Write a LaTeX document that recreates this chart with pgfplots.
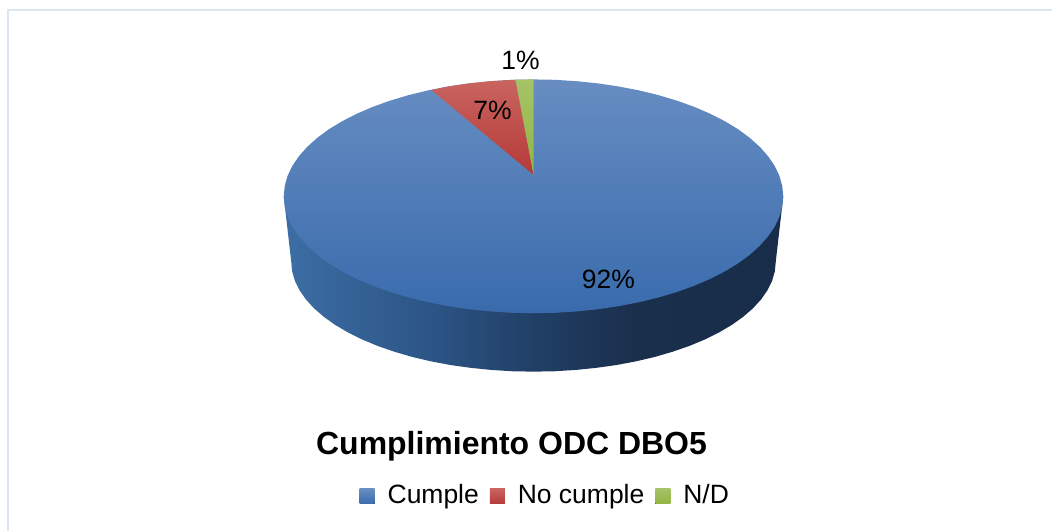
\documentclass[border=0pt]{standalone}
\usepackage{fontspec}
\setmainfont{Liberation Sans}
\usepackage{pgfplots}
\pgfplotsset{compat=1.18}
\definecolor{frameblue}{HTML}{DCE6F2}
\definecolor{blueT}{HTML}{678DC2}
\definecolor{blueM}{HTML}{4376B8}
\definecolor{blueB}{HTML}{396BAC}
\definecolor{redT}{HTML}{C9645F}
\definecolor{redB}{HTML}{B53A38}
\definecolor{greenT}{HTML}{A6C368}
\definecolor{greenB}{HTML}{92B541}
\pgfdeclarehorizontalshading{sidegrad}{100bp}{
  color(0bp)=(rgb,255:red,60;green,110;blue,165);
  color(25bp)=(rgb,255:red,60;green,110;blue,165);
  color(40bp)=(rgb,255:red,44;green,84;blue,133);
  color(50bp)=(rgb,255:red,33;green,63;blue,102);
  color(60bp)=(rgb,255:red,26;green,47;blue,76);
  color(75bp)=(rgb,255:red,24;green,45;blue,73);
  color(100bp)=(rgb,255:red,24;green,45;blue,73)}
\begin{document}
\begin{tikzpicture}
\begin{axis}[
  scale only axis, width=1053pt, height=531pt,
  xmin=0, xmax=1053, ymin=0, ymax=531, y dir=reverse,
  hide axis, clip=false, no marks,
  legend columns=-1,
  legend entries={Cumple,No cumple,N/D},
  legend style={at={(axis cs:360,495.5)}, anchor=west, draw=none, fill=none,
    inner sep=0pt, outer sep=0pt,
    font=\fontsize{26.5}{30}\selectfont,
    /tikz/every odd column/.append style={column sep=13pt},
    /tikz/every even column/.append style={column sep=11pt},
    nodes={inner sep=0pt, outer sep=0pt, anchor=base west}},
  legend image code/.code={\fill[#1] (0pt,0pt) rectangle (15pt,15pt);},
]
% page extent
\addplot[forget plot, draw=none, fill=white] coordinates {(0,0) (1053,0) (1053,531) (0,531)} -- cycle;
% frame
\addplot[forget plot, color=frameblue, line width=2pt] coordinates {(1053,10) (8,10) (8,531)};
% side wall
\addplot[forget plot, draw=none, shade, shading=sidegrad] coordinates {
(784,196.5) (776.5,262) (775.6,271.6) (772.8,281.1) (768.2,290.5) (761.9,299.6) (753.8,308.5) (744,317) (732.7,325.1) (719.8,332.7) (705.5,339.8) (689.9,346.3) (673.1,352.1) (655.3,357.3) (636.5,361.7) (616.9,365.4) (596.8,368.2) (576.1,370.3) (555.1,371.6) (534,372)
(512.9,371.6) (491.9,370.3) (471.2,368.2) (451.1,365.4) (431.5,361.7) (412.7,357.3) (394.9,352.1) (378.1,346.3) (362.5,339.8) (348.2,332.7) (335.3,325.1) (324,317) (314.2,308.5) (306.1,299.6) (299.8,290.5) (295.2,281.1) (292.4,271.6) (291.5,262) (284,196.5)
} -- cycle;
% Cumple 92
\addplot[draw=none, shade, top color=blueT, middle color=blueM, bottom color=blueB] coordinates {
(534,79.5) (555.8,79.9) (577.4,81.3) (598.7,83.5) (619.5,86.6) (639.7,90.5) (659,95.2) (677.4,100.7) (694.7,106.9) (710.8,113.8) (725.5,121.3) (738.8,129.4) (750.5,138) (760.6,147.1) (768.9,156.5) (775.5,166.2) (780.2,176.2) (783,186.3) (784,196.5)
(783,206.7) (780.2,216.8) (775.5,226.8) (768.9,236.5) (760.6,245.9) (750.5,255) (738.8,263.6) (725.5,271.7) (710.8,279.2) (694.7,286.1) (677.4,292.3) (659,297.8) (639.7,302.5) (619.5,306.4) (598.7,309.5) (577.4,311.7) (555.8,313.1) (534,313.5)
(512.2,313.1) (490.6,311.7) (469.3,309.5) (448.5,306.4) (428.3,302.5) (409,297.8) (390.6,292.3) (373.3,286.1) (357.2,279.2) (342.5,271.7) (329.2,263.6) (317.5,255) (307.4,245.9) (299.1,236.5) (292.5,226.8) (287.8,216.8) (285,206.7) (284,196.5)
(285,186.3) (287.8,176.2) (292.5,166.2) (299.1,156.5) (307.4,147.1) (317.5,138) (329.2,129.4) (342.5,121.3) (357.2,113.8) (373.3,106.9) (390.6,100.7) (409,95.2) (428.3,90.5) (448.5,86.6) (469.3,83.5) (490.6,81.3) (512.2,79.9)
} -- cycle;
% No cumple 7
\addplot[draw=none, shade, top color=redT, bottom color=redB] coordinates {
(534,175) (431.7,90) (448.5,86.6) (469.3,83.5) (490.6,81.3) (516,79.8)
} -- cycle;
% N/D 1
\addplot[draw=none, shade, top color=greenT, bottom color=greenB] coordinates {
(534,175) (516,79.8) (525,79.6) (534,79.5)
} -- cycle;
\node[anchor=base, font=\fontsize{26.5}{30}\selectfont] at (axis cs:521,69.8) {1\%};
\node[anchor=base, font=\fontsize{26.5}{30}\selectfont] at (axis cs:493,119.5) {7\%};
\node[anchor=base, font=\fontsize{26.5}{30}\selectfont] at (axis cs:609,289) {92\%};
\node[anchor=base, font=\fontsize{32}{36}\selectfont\bfseries] at (axis cs:512,455) {Cumplimiento ODC DBO5};
\end{axis}
\end{tikzpicture}
\end{document}
